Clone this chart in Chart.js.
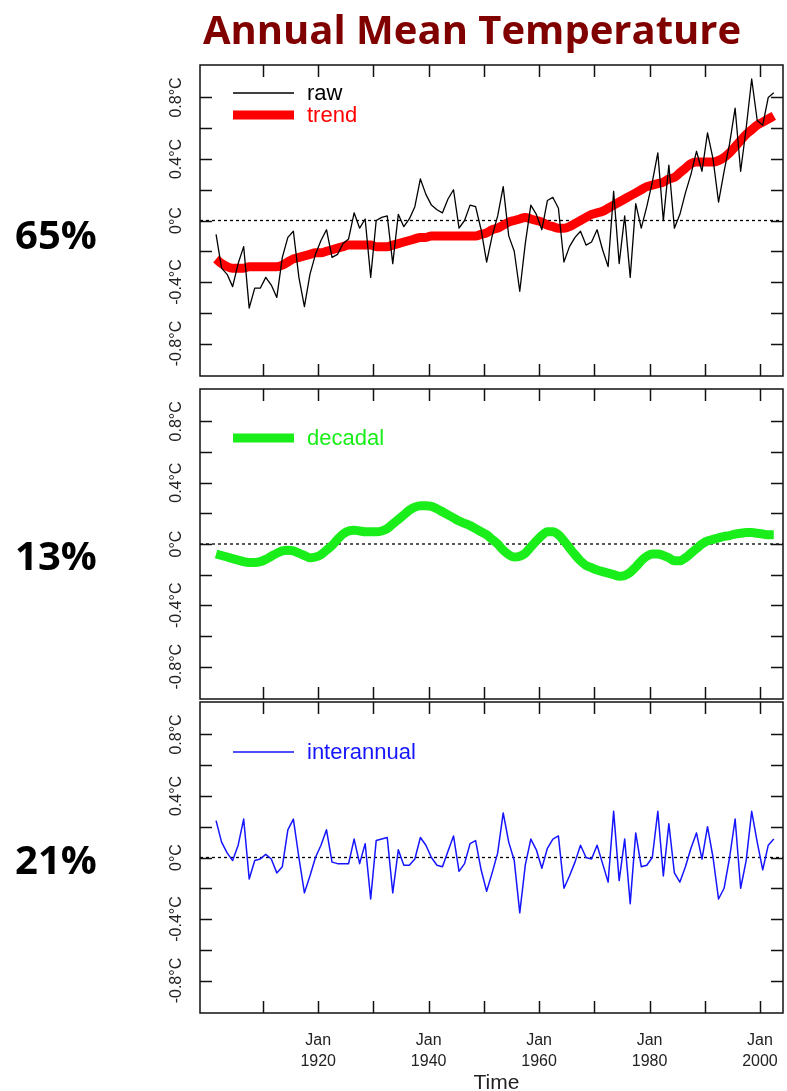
<!DOCTYPE html>
<html>
<head>
<meta charset="utf-8">
<title>Annual Mean Temperature</title>
<script src="https://cdn.jsdelivr.net/npm/chart.js@4.4.1/dist/chart.umd.min.js"></script>
<style>
  html, body { margin: 0; padding: 0; background: #fff; }
  #wrap { position: relative; width: 787px; height: 1091px; overflow: hidden; }
  canvas { position: absolute; left: 0; }
</style>
</head>
<body>
<div id="wrap">
  <canvas id="pTrend" width="787" height="390" style="top:0"></canvas>
  <canvas id="pDecadal" width="787" height="322" style="top:380px"></canvas>
  <canvas id="pInter" width="787" height="391" style="top:700px"></canvas>
</div>
<script>
// annual values, 1901 .. 2002 (plotted at mid-year)
const firstYear = 1901;

const raw = [
  -0.09, -0.31, -0.35, -0.43, -0.28, -0.17, -0.57, -0.44, -0.44, -0.37,
  -0.42, -0.50, -0.24, -0.11, -0.07, -0.37, -0.56, -0.35, -0.22, -0.13,
  -0.06, -0.24, -0.22, -0.15, -0.12, 0.05, -0.05, 0.01, -0.37, 0.00,
  0.02, 0.03, -0.28, 0.04, -0.04, 0.01, 0.09, 0.27, 0.17, 0.10,
  0.07, 0.05, 0.14, 0.20, -0.05, 0.00, 0.10, 0.09, -0.06, -0.27,
  -0.10, 0.03, 0.22, -0.10, -0.20, -0.46, -0.15, 0.10, 0.04, -0.06,
  0.13, 0.15, 0.08, -0.27, -0.17, -0.11, -0.07, -0.16, -0.14, -0.06,
  -0.19, -0.30, 0.19, -0.28, 0.03, -0.37, 0.11, -0.05, 0.09, 0.25,
  0.44, 0.00, 0.36, -0.05, 0.04, 0.18, 0.30, 0.45, 0.32, 0.57,
  0.40, 0.12, 0.32, 0.50, 0.73, 0.32, 0.60, 0.92, 0.65, 0.62,
  0.80, 0.83
];

const trend = [
  -0.25, -0.28, -0.30, -0.31, -0.31, -0.31, -0.30, -0.30, -0.30, -0.30,
  -0.30, -0.30, -0.29, -0.27, -0.25, -0.24, -0.23, -0.22, -0.21, -0.21,
  -0.20, -0.19, -0.18, -0.17, -0.16, -0.16, -0.16, -0.16, -0.16, -0.17,
  -0.17, -0.17, -0.16, -0.15, -0.14, -0.13, -0.12, -0.11, -0.11, -0.10,
  -0.10, -0.10, -0.10, -0.10, -0.10, -0.10, -0.10, -0.10, -0.09, -0.08,
  -0.06, -0.05, -0.03, -0.01, 0.00, 0.01, 0.02, 0.01, 0.00, -0.01,
  -0.03, -0.04, -0.05, -0.05, -0.04, -0.02, 0.00, 0.02, 0.04, 0.05,
  0.06, 0.08, 0.10, 0.12, 0.14, 0.16, 0.18, 0.20, 0.22, 0.23,
  0.24, 0.25, 0.27, 0.28, 0.31, 0.34, 0.37, 0.38, 0.38, 0.38,
  0.38, 0.39, 0.41, 0.44, 0.48, 0.52, 0.56, 0.59, 0.62, 0.64,
  0.66, 0.68
];

const decadal = [
  -0.065, -0.075, -0.085, -0.095, -0.105, -0.115, -0.12, -0.12, -0.115, -0.10,
  -0.08, -0.06, -0.045, -0.04, -0.045, -0.06, -0.075, -0.09, -0.085, -0.07,
  -0.04, -0.01, 0.03, 0.065, 0.085, 0.09, 0.085, 0.08, 0.08, 0.08,
  0.085, 0.10, 0.13, 0.16, 0.19, 0.22, 0.24, 0.25, 0.25, 0.245,
  0.23, 0.21, 0.19, 0.17, 0.15, 0.135, 0.12, 0.10, 0.08, 0.06,
  0.03, 0.00, -0.04, -0.07, -0.085, -0.08, -0.06, -0.02, 0.02, 0.055,
  0.08, 0.08, 0.06, 0.02, -0.025, -0.07, -0.11, -0.14, -0.155, -0.17,
  -0.18, -0.19, -0.20, -0.21, -0.205, -0.185, -0.15, -0.11, -0.08, -0.065,
  -0.065, -0.075, -0.09, -0.11, -0.11, -0.09, -0.06, -0.03, 0.00, 0.02,
  0.03, 0.04, 0.05, 0.055, 0.065, 0.07, 0.075, 0.075, 0.07, 0.065,
  0.06, 0.06
];

const interannual = [
  0.24, 0.10, 0.03, -0.02, 0.08, 0.25, -0.14, -0.02, -0.01, 0.02,
  -0.01, -0.10, -0.06, 0.18, 0.25, 0.00, -0.23, -0.12, 0.00, 0.08,
  0.18, -0.03, -0.04, -0.04, -0.04, 0.12, -0.04, 0.09, -0.27, 0.11,
  0.12, 0.13, -0.23, 0.05, -0.05, -0.05, -0.01, 0.13, 0.08, 0.00,
  -0.05, -0.06, 0.04, 0.14, -0.09, -0.04, 0.09, 0.11, -0.08, -0.22,
  -0.10, 0.03, 0.29, 0.10, -0.02, -0.36, -0.05, 0.12, 0.05, -0.07,
  0.06, 0.12, 0.14, -0.20, -0.12, -0.03, 0.08, 0.00, -0.01, 0.08,
  -0.04, -0.16, 0.30, -0.15, 0.12, -0.30, 0.16, -0.06, -0.05, 0.00,
  0.30, -0.12, 0.22, -0.10, -0.16, -0.06, 0.06, 0.16, -0.01, 0.20,
  0.00, -0.27, -0.20, 0.00, 0.25, -0.20, -0.02, 0.30, 0.10, -0.08,
  0.08, 0.12
];

const years = raw.map((_, i) => firstYear + i);

// axis ticks
const xTicks = [1910, 1920, 1930, 1940, 1950, 1960, 1970, 1980, 1990, 2000];
const xLabelTicks = [1920, 1940, 1960, 1980, 2000];
const yTicks = [-0.8, -0.6, -0.4, -0.2, 0, 0.2, 0.4, 0.6, 0.8];
const yLabelTicks = [-0.8, -0.4, 0, 0.4, 0.8];

const shares = ['65%', '13%', '21%'];

const toPoints = vals => vals.map((v, i) => ({ x: years[i] + 0.5, y: v }));
const fmtDeg = v => (v === 0 ? '0' : v.toFixed(1)) + '°C';

const SANS = '"Liberation Sans", Arial, sans-serif';
const BOLD = '"Open Sans", "Noto Sans", sans-serif';

// frame, inward ticks, rotated labels, zero line and in-plot legend
const panelDecor = {
  id: 'panelDecor',
  beforeDatasetsDraw(chart) {
    const { ctx, chartArea: a, scales: { y } } = chart;
    const y0 = y.getPixelForValue(0);
    ctx.save();
    ctx.strokeStyle = '#000';
    ctx.lineWidth = 1.3;
    ctx.setLineDash([3, 3]);
    ctx.beginPath();
    ctx.moveTo(a.left, y0);
    ctx.lineTo(a.right, y0);
    ctx.stroke();
    ctx.restore();
  },
  afterDatasetsDraw(chart, args, opts) {
    const { ctx, chartArea: a, scales: { x, y } } = chart;
    ctx.save();

    ctx.strokeStyle = '#111';
    ctx.lineWidth = 1.5;
    ctx.strokeRect(a.left, a.top, a.width, a.height);
    ctx.beginPath();
    yTicks.forEach(v => {
      const py = Math.round(y.getPixelForValue(v)) + 0.5;
      ctx.moveTo(a.left, py); ctx.lineTo(a.left + 12, py);
      ctx.moveTo(a.right, py); ctx.lineTo(a.right - 12, py);
    });
    xTicks.forEach(v => {
      const px = Math.round(x.getPixelForValue(v)) + 0.5;
      ctx.moveTo(px, a.top); ctx.lineTo(px, a.top + 12);
      ctx.moveTo(px, a.bottom); ctx.lineTo(px, a.bottom - 12);
    });
    ctx.stroke();

    // y labels, written bottom to top
    ctx.fillStyle = '#222';
    ctx.font = '16px ' + SANS;
    ctx.textAlign = 'center';
    ctx.textBaseline = 'middle';
    yLabelTicks.forEach(v => {
      ctx.save();
      ctx.translate(a.left - 23, y.getPixelForValue(v));
      ctx.rotate(-Math.PI / 2);
      ctx.fillText(fmtDeg(v), 0, 0);
      ctx.restore();
    });

    // legend inside the plot
    ctx.textAlign = 'left';
    ctx.font = '22px ' + SANS;
    opts.legend.forEach(item => {
      const ly = a.top + item.dy;
      ctx.strokeStyle = item.color;
      ctx.lineWidth = item.width;
      ctx.beginPath();
      ctx.moveTo(a.left + 33, ly);
      ctx.lineTo(a.left + 94, ly);
      ctx.stroke();
      ctx.fillStyle = item.color;
      ctx.fillText(item.text, a.left + 107, ly + 1);
    });

    // share of variance on the left
    ctx.fillStyle = '#000';
    ctx.font = 'bold 40px ' + BOLD;
    ctx.textAlign = 'center';
    ctx.textBaseline = 'alphabetic';
    ctx.fillText(opts.share, 56, y.getPixelForValue(0) + opts.shareDy);

    if (opts.title) {
      ctx.fillStyle = '#800000';
      ctx.font = 'bold 40px ' + BOLD;
      ctx.fillText(opts.title, 472, 44);
    }

    if (opts.timeAxis) {
      ctx.fillStyle = '#222';
      ctx.font = '16px ' + SANS;
      xLabelTicks.forEach(v => {
        const px = x.getPixelForValue(v);
        ctx.fillText('Jan', px, a.bottom + 32);
        ctx.fillText(String(v), px, a.bottom + 53);
      });
      ctx.font = '21px ' + SANS;
      ctx.fillText('Time', (a.left + a.right) / 2 + 5, a.bottom + 76);
    }
    ctx.restore();
  }
};

function makePanel(id, datasets, padding, decor) {
  return new Chart(document.getElementById(id), {
    type: 'line',
    data: { datasets },
    options: {
      responsive: false,
      animation: false,
      devicePixelRatio: 1,
      layout: { padding },
      elements: { point: { radius: 0 }, line: { borderCapStyle: 'butt', borderJoinStyle: 'round' } },
      scales: {
        x: { type: 'linear', display: false, min: 1898.59, max: 2004.17 },
        y: { type: 'linear', display: false, min: -1.011, max: 1.011 }
      },
      plugins: {
        legend: { display: false },
        tooltip: { enabled: false },
        panelDecor: decor
      }
    },
    plugins: [panelDecor]
  });
}

makePanel('pTrend', [
  { label: 'raw', data: toPoints(raw), borderColor: '#000', borderWidth: 1.3, tension: 0 },
  { label: 'trend', data: toPoints(trend), borderColor: '#ff0000', borderWidth: 9, cubicInterpolationMode: 'monotone' }
], { left: 200, right: 4, top: 65, bottom: 14 }, {
  legend: [
    { text: 'raw', color: '#000', width: 1.4, dy: 28 },
    { text: 'trend', color: '#ff0000', width: 9, dy: 50 }
  ],
  share: shares[0], shareDy: 28,
  title: 'Annual Mean Temperature'
});

makePanel('pDecadal', [
  { label: 'decadal', data: toPoints(decadal), borderColor: '#1aee1a', borderWidth: 9, cubicInterpolationMode: 'monotone' }
], { left: 200, right: 4, top: 9, bottom: 3 }, {
  legend: [{ text: 'decadal', color: '#1aee1a', width: 9, dy: 49 }],
  share: shares[1], shareDy: 26
});

makePanel('pInter', [
  { label: 'interannual', data: toPoints(interannual), borderColor: '#1515ff', borderWidth: 1.5, tension: 0 }
], { left: 200, right: 4, top: 2, bottom: 78 }, {
  legend: [{ text: 'interannual', color: '#1515ff', width: 1.5, dy: 50 }],
  share: shares[2], shareDy: 16,
  timeAxis: true
});
</script>
</body>
</html>
